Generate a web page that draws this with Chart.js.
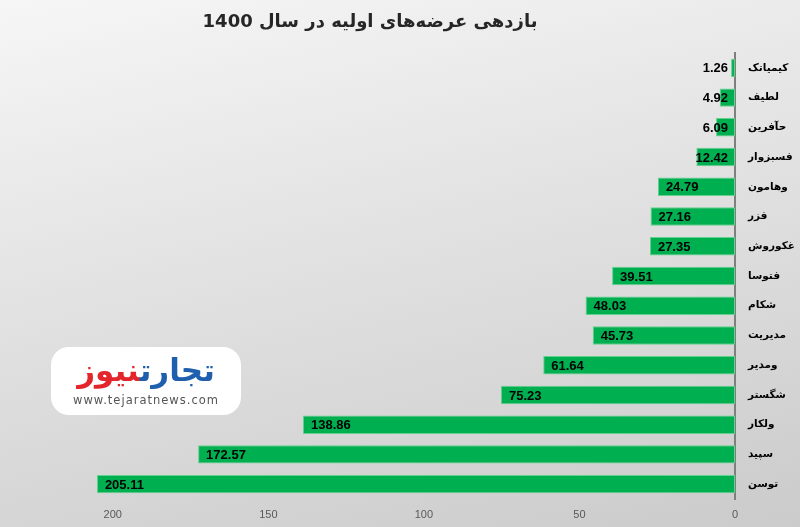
<!DOCTYPE html>
<html>
<head>
<meta charset="utf-8">
<script src="https://cdn.jsdelivr.net/npm/chart.js@4"></script>
<style>
  html, body { margin: 0; padding: 0; }
  #wrap {
    position: relative; width: 800px; height: 527px; overflow: hidden;
    background: linear-gradient(168deg, #f6f6f6 0%, #e2e2e2 45%, #cbcbcb 100%);
  }
  #chart { position: absolute; left: 0; top: 0; }
  #logo {
    position: absolute; left: 51px; top: 347px; width: 190px; height: 68px;
    background: #fff; border-radius: 18px; text-align: center;
  }
  #logo .name {
    position: absolute; left: 0; right: 0; top: 5px;
    font: bold 31px 'DejaVu Sans', sans-serif; direction: rtl; line-height: 36px;
  }
  #logo .name .b { color: #1f5fae; }
  #logo .name .r { color: #e2262c; }
  #logo .url {
    position: absolute; left: 0; right: 0; top: 46px;
    font: 11.5px 'DejaVu Sans', sans-serif; color: #555; letter-spacing: 1px;
  }
</style>
</head>
<body>
<div id="wrap">
  <canvas id="chart" width="800" height="527"></canvas>
  <div id="logo">
    <div class="name"><span class="b">تجارت</span><span class="r">نیوز</span></div>
    <div class="url">www.tejaratnews.com</div>
  </div>
</div>
<script>
const chartTitle = 'بازدهی عرضه‌های اولیه در سال 1400';
const symbols = ['کیمیاتک', 'لطیف', 'حآفرین', 'فسبزوار', 'وهامون', 'فزر', 'غکوروش', 'فتوسا',
                 'شکام', 'مدیریت', 'ومدیر', 'شگستر', 'ولکار', 'سپید', 'توسن'];
const returns = [1.26, 4.92, 6.09, 12.42, 24.79, 27.16, 27.35, 39.51,
                 48.03, 45.73, 61.64, 75.23, 138.86, 172.57, 205.11];
const xTicks = [0, 50, 100, 150, 200];

// value labels inside the bar, near its far (left) end
const valueLabels = {
  id: 'valueLabels',
  afterDatasetsDraw(chart) {
    const ctx = chart.ctx;
    const meta = chart.getDatasetMeta(0);
    ctx.save();
    ctx.font = 'bold 13px "Liberation Sans", Arial, sans-serif';
    ctx.fillStyle = '#000';
    ctx.textBaseline = 'middle';
    ctx.textAlign = 'left';
    meta.data.forEach((bar, i) => {
      const txt = returns[i].toFixed(2);
      const w = ctx.measureText(txt).width;
      const x = Math.min(bar.x + 8, bar.base - 7 - w);
      ctx.fillText(txt, x, bar.y + 1);
    });
    ctx.restore();
  }
};

const titlePlugin = {
  id: 'customTitle',
  afterDraw(chart) {
    const ctx = chart.ctx;
    ctx.save();
    ctx.font = 'bold 18px "DejaVu Sans", sans-serif';
    ctx.fillStyle = '#262626';
    ctx.textAlign = 'center';
    ctx.textBaseline = 'middle';
    ctx.direction = 'rtl';
    ctx.fillText(chartTitle, 370, 22);
    ctx.restore();
  }
};

new Chart(document.getElementById('chart').getContext('2d'), {
  type: 'bar',
  data: {
    labels: symbols,
    datasets: [{
      data: returns,
      backgroundColor: '#00b050',
      borderColor: '#63d18e',
      borderWidth: 1,
      borderSkipped: false,
      barPercentage: 0.62,
      categoryPercentage: 1
    }]
  },
  options: {
    indexAxis: 'y',
    responsive: false,
    animation: false,
    devicePixelRatio: 1,
    layout: { padding: { left: 91, top: 53, right: 0, bottom: 0 } },
    plugins: { legend: { display: false }, tooltip: { enabled: false } },
    scales: {
      x: {
        reverse: true,
        min: 0,
        max: 207,
        afterBuildTicks(axis) { axis.ticks = xTicks.map(v => ({ value: v })); },
        afterFit(axis) { axis.height = 28; },
        grid: { display: false, drawTicks: false },
        border: { display: false },
        ticks: { color: '#595959', font: { family: '"Liberation Sans", Arial', size: 11 }, padding: 9 }
      },
      y: {
        position: 'right',
        afterFit(axis) { axis.width = 65; },
        grid: { display: false, drawTicks: false },
        border: { display: true, color: '#7f7f7f', width: 2 },
        ticks: { color: '#000', font: { family: '"DejaVu Sans", sans-serif', size: 10.5, weight: 'bold' }, padding: 13 }
      }
    }
  },
  plugins: [valueLabels, titlePlugin]
});
</script>
</body>
</html>
